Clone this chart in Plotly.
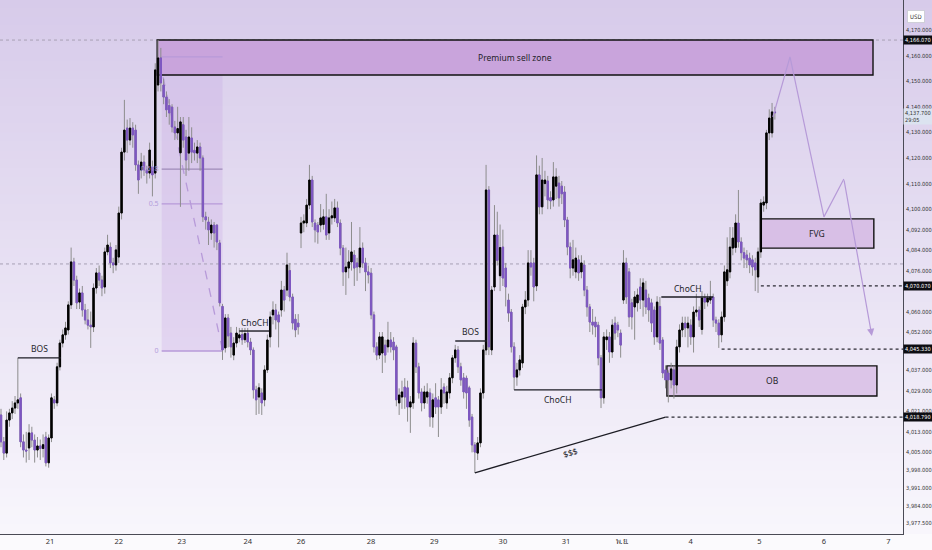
import plotly.graph_objects as go

# hourly candles (USD)
opens = [4019.6, 4009.1, 4004.7, 4017.6, 4020.4, 4022.3, 4024.3, 4026.3, 4009.1, 4005.9,
         4006.7, 4012.6, 4009.8, 4005.9, 4007.5, 4006.5, 4011.0, 4000.9, 4010.6, 4025.5,
         4024.3, 4038.4, 4047.7, 4050.9, 4052.8, 4062.6, 4079.4, 4072.3, 4063.7, 4067.3,
         4060.6, 4056.7, 4054.7, 4054.0, 4069.2, 4075.1, 4072.3, 4069.6, 4083.3, 4085.2,
         4079.0, 4078.2, 4081.3, 4098.5, 4122.3, 4131.7, 4127.0, 4131.7, 4130.9, 4117.3,
         4115.3, 4118.4, 4115.3, 4114.1, 4116.5, 4114.1, 4148.5, 4159.1, 4148.5, 4143.8,
         4140.5, 4139.9, 4132.1, 4129.8, 4122.0, 4133.0, 4128.2, 4121.9, 4127.8, 4123.0,
         4121.9, 4124.3, 4120.0, 4097.0, 4095.0, 4090.7, 4093.8, 4093.8, 4086.8, 4062.0,
         4045.8, 4057.5, 4051.6, 4043.0, 4047.7, 4049.7, 4051.0, 4049.0, 4051.6, 4048.1,
         4045.0, 4029.4, 4026.6, 4028.2, 4025.5, 4037.2, 4050.1, 4058.7, 4060.6, 4058.7,
         4060.6, 4068.4, 4068.4, 4076.0, 4065.7, 4057.0, 4055.5,
         4090.7, 4094.6, 4094.6, 4101.6, 4111.4, 4094.6, 4093.8, 4093.8, 4094.0, 4097.0,
         4090.7, 4096.6, 4096.6, 4100.5, 4094.6, 4084.8, 4075.5, 4077.0, 4079.4, 4082.1,
         4079.0, 4077.4, 4084.8, 4079.0, 4075.5, 4075.0, 4058.7, 4046.2, 4043.0, 4043.8,
         4046.9, 4046.2, 4048.9, 4048.1, 4046.2, 4024.3, 4026.6, 4030.5, 4030.2, 4022.7,
         4024.3, 4047.7, 4038.4, 4028.6, 4024.3, 4026.6, 4028.2, 4018.8, 4026.3, 4025.5,
         4022.7, 4030.5, 4024.3, 4028.2, 4034.1, 4041.9, 4045.0, 4038.4, 4034.1, 4034.0,
         4030.2, 4018.8, 4007.9, 4004.7, 4008.7, 4028.2, 4045.0, 4107.5, 4045.0, 4069.6,
         4089.9, 4074.0, 4085.2, 4077.0, 4064.5, 4059.8, 4046.2, 4034.4, 4037.2, 4039.9,
         4061.8, 4064.5, 4079.0, 4079.0, 4070.0, 4113.4, 4100.9, 4110.0, 4111.0, 4104.5,
         4103.6, 4109.0, 4110.2, 4109.0, 4106.7, 4095.8, 4085.2, 4077.0, 4075.5, 4080.2,
         4075.5, 4078.2, 4068.4, 4061.8, 4055.9, 4055.9, 4054.7, 4041.9, 4026.3, 4049.0,
         4050.1, 4044.2, 4055.5, 4054.7, 4051.6,
         4064.5, 4079.0, 4075.5, 4063.4, 4061.8, 4063.4, 4069.6, 4064.5, 4068.4, 4065.3,
         4063.4, 4060.6, 4050.1, 4062.0, 4048.9, 4037.2, 4036.0, 4033.3, 4037.2, 4031.3,
         4046.2, 4052.8, 4055.5, 4053.6, 4054.7, 4050.1, 4059.8, 4060.6, 4053.0, 4065.3,
         4063.7, 4064.5, 4065.7, 4056.7, 4055.5, 4050.9, 4057.9, 4072.0, 4075.5, 4084.8,
         4085.0, 4094.6, 4087.2, 4083.0, 4082.1, 4080.9, 4080.2, 4079.0, 4073.5, 4083.3,
         4101.6, 4102.4, 4129.8, 4129.8, 4138.0]
highs = [4022, 4011, 4021, 4022, 4025, 4027, 4041.9, 4028, 4012, 4013,
         4016, 4015, 4012, 4011, 4010, 4012, 4013, 4012, 4028, 4027,
         4040, 4049, 4053, 4056, 4064, 4085, 4081, 4074, 4069, 4070,
         4063, 4061, 4060, 4071, 4077, 4078, 4074, 4085, 4090, 4087,
         4081, 4086, 4101, 4124, 4142.7, 4135, 4135.6, 4134, 4133, 4119,
         4122, 4121, 4117, 4126, 4119, 4157, 4166.07, 4163, 4151, 4146,
         4143, 4141, 4134.5, 4140, 4136, 4136, 4131, 4136, 4132, 4126,
         4127, 4126, 4121, 4099, 4097, 4096, 4095, 4094, 4088, 4063,
         4059, 4059, 4054, 4050, 4054, 4053.6, 4053.6, 4053.6, 4053.6, 4049.7,
         4046, 4031, 4032, 4030, 4039, 4051, 4060, 4064, 4063, 4060,
         4072, 4070, 4083, 4079, 4067, 4059, 4059,
         4097, 4098, 4104, 4117.3, 4113, 4096, 4095, 4102, 4100, 4106,
         4100, 4103, 4104, 4103, 4096, 4086, 4085, 4084, 4095, 4084,
         4081, 4093, 4087, 4081, 4078, 4077, 4060, 4048, 4052, 4052,
         4049, 4056, 4052, 4050, 4047, 4030, 4033, 4034, 4033, 4027,
         4050, 4049, 4040, 4030, 4031, 4032, 4030, 4028, 4032, 4027,
         4034, 4032, 4031, 4036, 4043, 4047, 4046.5, 4040, 4036, 4035,
         4031, 4020, 4009, 4011, 4030, 4047, 4117.3, 4109, 4070, 4101.6,
         4099, 4094, 4092, 4079, 4067, 4061, 4048, 4040, 4043, 4063,
         4068, 4084, 4084, 4081, 4121, 4117, 4120, 4115, 4113, 4107,
         4118.4, 4116, 4113, 4111, 4109, 4097, 4087, 4088, 4085, 4082,
         4082, 4080, 4070, 4063, 4061, 4058, 4056, 4043, 4052, 4053,
         4052, 4057, 4058, 4056, 4053,
         4084, 4081, 4077, 4065, 4068, 4069, 4073, 4073, 4072, 4067,
         4065, 4062, 4066, 4065.7, 4050, 4039, 4037, 4040, 4039, 4049,
         4055, 4058, 4058, 4058, 4057, 4062, 4067, 4062, 4068, 4067,
         4067, 4072, 4067, 4058, 4057, 4060, 4078, 4089, 4093, 4093,
         4098, 4107.5, 4089, 4085, 4084, 4083, 4082, 4081, 4085, 4104,
         4105, 4131, 4139, 4141.5, 4140]
lows = [4007, 4002, 4003, 4015, 4018, 4020, 4022, 4007, 4003, 4001,
        4002, 4007, 4001, 4003, 4002, 4003, 3999.5, 3999, 4009, 4022,
        4023, 4037, 4046, 4049, 4051, 4061, 4070, 4061, 4061, 4058,
        4055, 4053, 4045.8, 4052, 4067, 4070, 4066, 4067, 4082, 4077,
        4075, 4076, 4079, 4096, 4119, 4122, 4125, 4124, 4115, 4106,
        4112, 4113, 4110, 4112, 4105, 4112, 4146, 4146, 4141, 4136,
        4133, 4130, 4127, 4127, 4100.9, 4124, 4113, 4115, 4118, 4119,
        4118, 4115, 4095, 4092, 4086, 4088, 4085, 4084, 4062, 4041.1,
        4044, 4046, 4042, 4041, 4046, 4048, 4047, 4047.7, 4046, 4043,
        4026, 4019.6, 4020, 4019.6, 4023, 4036, 4046, 4055, 4053, 4046,
        4058, 4060, 4066, 4064, 4053, 4050, 4051,
        4084.8, 4091, 4093, 4100, 4093, 4087, 4086.5, 4091, 4092, 4088,
        4088, 4094, 4095, 4093, 4082, 4070, 4066.5, 4073, 4076, 4070,
        4072, 4075, 4077, 4068, 4071, 4057, 4044, 4041, 4041.5, 4036,
        4040, 4044, 4044, 4041, 4023, 4019.6, 4022, 4022, 4017, 4012.6,
        4022, 4036, 4026, 4021, 4022, 4024, 4015, 4014.6, 4020, 4011,
        4020, 4024, 4022, 4026, 4032, 4040, 4036, 4031, 4026, 4022,
        4015, 4005, 3997.0, 4002, 4007, 4026, 4043, 4043, 4043, 4068,
        4078, 4068, 4070, 4062, 4056, 4044, 4029.4, 4031, 4035, 4038,
        4059, 4062, 4074, 4064, 4068, 4098, 4098, 4105, 4100, 4100,
        4101, 4104, 4101, 4102, 4093, 4082, 4073, 4074, 4073, 4072,
        4073, 4066, 4058, 4052, 4051, 4050, 4039, 4022.3, 4024, 4045,
        4040, 4041.9, 4049, 4050, 4042,
        4063, 4063, 4054, 4053, 4049, 4060, 4061, 4058, 4059, 4056,
        4052, 4047, 4048, 4045, 4034, 4030, 4024.5, 4030, 4026, 4028,
        4044, 4050, 4050, 4046, 4047, 4044, 4058, 4054, 4051, 4061,
        4062, 4063, 4054, 4052, 4045.8, 4048, 4056, 4070, 4073, 4082,
        4083, 4085, 4080, 4077, 4077, 4075, 4074, 4068, 4067.3, 4081,
        4099, 4100, 4127, 4128, 4135]
closes = [4009.1, 4004.7, 4017.6, 4020.4, 4022.3, 4024.3, 4025.5, 4009.1, 4005.9, 4005.5,
          4012.6, 4009.8, 4005.9, 4007.5, 4006.5, 4008.0, 4000.9, 4010.6, 4026.3, 4024.3,
          4038.4, 4047.7, 4050.9, 4053.6, 4062.6, 4079.4, 4072.3, 4063.4, 4067.3, 4060.6,
          4056.7, 4054.7, 4054.0, 4069.2, 4075.1, 4072.3, 4069.2, 4083.3, 4086.0, 4079.0,
          4078.2, 4084.1, 4098.5, 4122.3, 4130.9, 4127.0, 4131.7, 4129.0, 4117.3, 4111.4,
          4118.4, 4115.3, 4114.1, 4123.1, 4113.4, 4154.4, 4159.1, 4149.3, 4143.8, 4138.8,
          4137.6, 4132.1, 4129.8, 4131.5, 4134.1, 4127.0, 4119.2, 4128.2, 4122.3, 4122.0,
          4124.3, 4120.0, 4097.0, 4095.8, 4091.9, 4093.8, 4090.7, 4087.2, 4063.4, 4045.0,
          4057.5, 4050.5, 4046.2, 4047.7, 4051.6, 4050.9, 4049.0, 4051.4, 4048.1, 4045.0,
          4029.4, 4025.5, 4030.2, 4024.3, 4037.2, 4048.9, 4057.9, 4060.6, 4056.7, 4055.9,
          4068.4, 4064.5, 4078.2, 4065.7, 4055.5, 4052.8, 4054.0,
          4094.6, 4095.4, 4101.6, 4111.4, 4095.0, 4091.9, 4091.1, 4096.6, 4097.0, 4089.9,
          4096.6, 4097.4, 4100.5, 4094.6, 4084.8, 4075.5, 4077.4, 4079.4, 4083.3, 4077.0,
          4077.4, 4084.8, 4079.0, 4075.5, 4074.3, 4058.7, 4046.2, 4043.0, 4050.1, 4050.1,
          4043.0, 4048.9, 4046.2, 4045.0, 4025.5, 4027.4, 4028.6, 4026.6, 4022.7, 4024.7,
          4047.7, 4038.4, 4028.2, 4024.3, 4028.6, 4028.6, 4018.8, 4025.5, 4022.7, 4022.7,
          4029.4, 4028.2, 4028.6, 4034.1, 4041.9, 4045.0, 4038.4, 4033.3, 4028.6, 4028.2,
          4017.6, 4007.9, 4005.1, 4008.7, 4028.2, 4045.0, 4107.5, 4046.2, 4068.4, 4089.9,
          4080.0, 4085.0, 4073.1, 4069.6, 4059.4, 4046.2, 4034.4, 4037.2, 4041.1, 4061.8,
          4064.5, 4079.0, 4077.4, 4069.6, 4113.4, 4100.9, 4111.4, 4111.4, 4103.6, 4103.2,
          4112.6, 4112.6, 4104.4, 4106.0, 4095.8, 4085.2, 4077.0, 4080.2, 4080.9, 4075.1,
          4079.0, 4068.4, 4061.8, 4055.9, 4054.7, 4054.0, 4041.9, 4026.3, 4050.1, 4050.1,
          4044.2, 4054.7, 4051.6, 4052.8, 4046.9,
          4079.0, 4065.7, 4057.9, 4057.9, 4065.7, 4066.5, 4064.5, 4071.2, 4061.8, 4060.6,
          4055.5, 4050.1, 4063.7, 4047.7, 4036.0, 4033.3, 4033.3, 4037.6, 4031.3, 4046.2,
          4052.8, 4055.5, 4053.6, 4055.5, 4050.1, 4059.8, 4060.6, 4056.7, 4065.3, 4063.7,
          4065.3, 4065.7, 4056.7, 4055.5, 4050.9, 4057.9, 4075.5, 4076.3, 4085.2, 4088.7,
          4094.6, 4087.2, 4083.0, 4080.9, 4080.2, 4078.2, 4077.4, 4076.3, 4083.3, 4102.4,
          4102.8, 4129.8, 4135.6, 4138.0, 4137.7]

# day labels on the time axis (position in bars)
day_ticks = [17.5, 42, 64.5, 88, 107, 132, 154.5, 179, 201.5, 221.5, 246, 270.5, 293.5, 316.5]
day_labels = ["21", "22", "23", "24", "26", "28", "29", "30", "31", "พ.ย.", "4", "5", "6", "7"]

price_ticks = [4170, 4160, 4150, 4140, 4130, 4120, 4110, 4100, 4092, 4084, 4076,
               4060, 4052, 4037, 4029, 4021, 4013, 4005, 3998, 3991, 3984, 3977.5]
marked_prices = [4166.07, 4070.07, 4045.33, 4018.79]
last_price = 4137.7
countdown = "29:05"

fib_hi, fib_lo = 4159.5, 4044.6
fib_levels = [0, 0.5, 0.618, 1]

# projected path drawn to the right of the last candle
path_x = [275.3, 281.4, 293.5, 300.6, 310.6]
path_y = [4136.0, 4159.5, 4097.0, 4111.8, 4050.5]

X0, X1 = -0.36, 321.7
Y0, Y1 = 3973.1, 4181.72
PURPLE = "#7e57c2"
TXT = "#1f1f2a"
FONT = "Noto Sans, DejaVu Sans, sans-serif"
NARROW = "Liberation Sans Narrow, Arial Narrow, DejaVu Sans Condensed, sans-serif"
AXIS_SIZE = 5.6

idx = list(range(len(opens)))
body_hi = [max(o, c) for o, c in zip(opens, closes)]
body_lo = [min(o, c) for o, c in zip(opens, closes)]

fig = go.Figure()

# fib labels sit under the candles
fig.add_trace(go.Scatter(
    x=[56.2] * 3, y=[fib_lo + l * (fib_hi - fib_lo) for l in fib_levels[:3]],
    text=[str(l) for l in fib_levels[:3]], mode="text", textposition="middle left",
    textfont=dict(size=7, color="#b39ddb", family=FONT), hoverinfo="skip"))

# wicks
fig.add_trace(go.Candlestick(
    x=idx, open=opens, high=highs, low=lows, close=closes,
    increasing=dict(line=dict(color="#8d8d8d", width=1), fillcolor="#8d8d8d"),
    decreasing=dict(line=dict(color="#8d8d8d", width=1), fillcolor="#8d8d8d"),
    hoverinfo="skip"))
# bodies
fig.add_trace(go.Candlestick(
    x=idx, open=opens, high=body_hi, low=body_lo, close=closes,
    increasing=dict(line=dict(color="#000000", width=1), fillcolor="#000000"),
    decreasing=dict(line=dict(color=PURPLE, width=1), fillcolor=PURPLE),
    hoverinfo="skip"))

fig.add_trace(go.Scatter(x=path_x[:4], y=path_y[:4], mode="lines",
                         line=dict(color="#b69ad8", width=1.2), hoverinfo="skip"))

shapes = []
# background gradient
n = 60
top, bot = (215, 203, 234), (248, 246, 252)
for k in range(n):
    t = k / (n - 1)
    col = tuple(round(top[j] + (bot[j] - top[j]) * t) for j in range(3))
    shapes.append(dict(type="rect", xref="paper", yref="paper", layer="below",
                       x0=0, x1=1.04, y0=1 - (k + 1) / n, y1=1 - k / n + 0.002,
                       fillcolor="rgb(%d,%d,%d)" % col, line=dict(width=0)))

# fib box
shapes.append(dict(type="rect", layer="below", x0=57.3, x1=79, y0=fib_lo, y1=fib_hi,
                   fillcolor="rgba(190,150,225,0.22)", line=dict(width=0)))
shapes.append(dict(type="line", layer="below", x0=57.8, x1=79, y0=4151.6, y1=4045.0,
                   line=dict(color="#b79ad9", width=1.3, dash="dash")))

# horizontal guide lines
for yy in [4166.07, 4078.6]:
    shapes.append(dict(type="line", layer="below", x0=X0, x1=X1, y0=yy, y1=yy,
                       line=dict(color="#a8a0b4", width=1, dash="dot")))
for x0, yy in [(271, 4070.07), (257, 4045.33), (237, 4018.79)]:
    shapes.append(dict(type="line", layer="above", x0=x0, x1=X1, y0=yy, y1=yy,
                       line=dict(color="#2b2b33", width=1.3, dash="dot")))

# zones
for x0, x1, y0, y1, fc in [(55.7, 311, 4152.4, 4166.07, "#c9a4dc"),
                           (271, 311.3, 4084.8, 4096.2, "#d8bfe6"),
                           (237.5, 312.4, 4027.0, 4038.8, "#dcc5e8")]:
    shapes.append(dict(type="rect", layer="below", x0=x0, x1=x1, y0=y0, y1=y1,
                       fillcolor=fc, line=dict(color="#111111", width=1.4)))

# fib levels (drawn over the zone fill)
for l in fib_levels:
    yy = fib_lo + l * (fib_hi - fib_lo)
    shapes.append(dict(type="line", layer="below", x0=57.3, x1=79, y0=yy, y1=yy,
                       line=dict(color="#b79ad9" if l != 0.618 else "#9e8ab8", width=1.3)))

# structure lines
for x0, x1, y0, y1 in [(6, 21.4, 4041.9, 4041.9), (85, 95.7, 4052.4, 4052.4),
                       (162, 173.3, 4048.5, 4048.5), (183, 214.3, 4029.4, 4029.4),
                       (235.5, 254, 4065.7, 4065.7), (169, 237, 3997.0, 4018.79)]:
    shapes.append(dict(type="line", layer="above", x0=x0, x1=x1, y0=y0, y1=y1,
                       line=dict(color="#1c1c24", width=1.4)))

annotations = []
for x, y, t, ang in [(13.7, 4045.6, "BOS", 0), (90.3, 4055.8, "ChoCH", 0),
                     (167.6, 4052.4, "BOS", 0), (198.6, 4025.8, "ChoCH", 0),
                     (244.7, 4069.2, "ChoCH", 0), (203, 4004.9, "$$$", -16.5),
                     (183.4, 4159.2, "Premium sell zone", 0), (291, 4090.5, "FVG", 0),
                     (275, 4032.9, "OB", 0)]:
    annotations.append(dict(x=x, y=y, text=t, showarrow=False, textangle=ang,
                            font=dict(size=8.5, color=TXT, family=FONT)))

annotations.append(dict(x=path_x[4], y=path_y[4], ax=path_x[3], ay=path_y[3],
                        xref="x", yref="y", axref="x", ayref="y", text="",
                        showarrow=True, arrowhead=2, arrowsize=1.2, arrowwidth=1.2,
                        arrowcolor="#b69ad8"))

# price axis labels
for p in marked_prices:
    annotations.append(dict(x=1.0005, xref="paper", y=p, xanchor="left", text=f"{p:,.3f}",
                            showarrow=False, bgcolor="#0d0d12", borderpad=1,
                            font=dict(size=AXIS_SIZE, color="white", family=NARROW)))
annotations.append(dict(x=1.0005, xref="paper", y=last_price, xanchor="left", yanchor="top",
                        yshift=5, text=f"{last_price:,.3f}<br>{countdown}", align="left",
                        showarrow=False, bgcolor="#dce3f0", borderpad=1,
                        font=dict(size=AXIS_SIZE, color="#333", family=NARROW)))
annotations.append(dict(x=1.004, xref="paper", y=0.982, yref="paper", xanchor="left",
                        text="USD", showarrow=False, bgcolor="white", bordercolor="#cfcfd8",
                        borderpad=2, font=dict(size=6, color="#333", family=NARROW)))

fig.update_layout(
    width=932, height=550,
    margin=dict(l=0, r=29, t=0, b=16),
    paper_bgcolor="#fbfafd", plot_bgcolor="rgba(0,0,0,0)",
    showlegend=False, shapes=shapes, annotations=annotations,
    font=dict(family=FONT, color="#333"),
)
fig.update_xaxes(range=[X0, X1], tickvals=day_ticks, ticktext=day_labels,
                 tickfont=dict(size=7.5, color="#333"), showgrid=False, zeroline=False,
                 showline=True, linecolor="#4a4a55", linewidth=1, ticks="",
                 automargin=False, rangeslider=dict(visible=False), fixedrange=True)
fig.update_yaxes(range=[Y0, Y1], side="right", tickvals=price_ticks,
                 ticktext=[f"{v:,.3f}" for v in price_ticks],
                 tickfont=dict(size=AXIS_SIZE, color="#333", family=NARROW), showgrid=False,
                 zeroline=False, showline=True, linecolor="#4a4a55", linewidth=1,
                 ticks="", ticklabelstandoff=1, automargin=False, fixedrange=True)

fig.write_html("out.html", config={"displayModeBar": False},
               post_script="document.body.style.margin='0px';"
                           "document.body.style.overflow='hidden';")
